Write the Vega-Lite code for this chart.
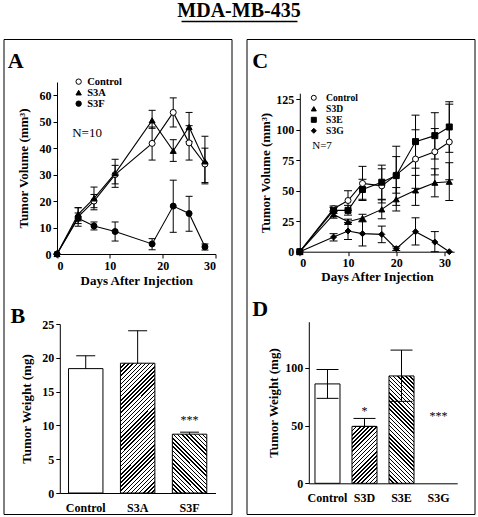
{
"$schema": "https://vega.github.io/schema/vega-lite/v6.json",
"background": "white",
"padding": {"left": 2.5, "top": 0, "right": 3, "bottom": 3},
"title": {"text": "MDA-MB-435", "font": "Liberation Serif", "fontSize": 20, "fontWeight": "bold", "color": "black", "anchor": "middle", "offset": -0.5},
"bounds": "flush",
"spacing": 15,
"resolve": {"scale": {"fill": "independent", "shape": "independent", "stroke": "independent"}, "legend": {"fill": "independent", "shape": "independent", "stroke": "independent"}},
"config": {
  "view": {"stroke": "black", "strokeWidth": 1},
  "axis": {"labelFont": "Liberation Serif", "labelFontWeight": "bold", "labelFontSize": 12, "labelColor": "black", "titleFont": "Liberation Serif", "titleFontWeight": "bold", "titleFontSize": 13, "titleColor": "black", "domainColor": "black", "tickColor": "black", "grid": false, "tickSize": 4, "labelPadding": 2},
  "text": {"font": "Liberation Serif", "color": "black"}
},
"hconcat": [
{
  "width": 228, "height": 475,
  "resolve": {"scale": {"x": "independent", "y": "independent"}},
  "layer": [
  {
    "data": {"values": [
      {"g":"Control","day":0,"v":0},
      {"g":"Control","day":4,"v":14,"lo":10.5,"hi":17.5},
      {"g":"Control","day":7,"v":20,"lo":17.5,"hi":22.5},
      {"g":"Control","day":11,"v":30,"lo":26.5,"hi":33.5},
      {"g":"Control","day":18,"v":41.8,"lo":35.5,"hi":48},
      {"g":"Control","day":22,"v":53.5,"lo":48,"hi":59},
      {"g":"Control","day":25,"v":42,"lo":35.5,"hi":48.5},
      {"g":"Control","day":28,"v":34,"lo":27,"hi":40},
      {"g":"S3A","day":0,"v":0},
      {"g":"S3A","day":4,"v":15,"lo":12.5,"hi":17.5},
      {"g":"S3A","day":7,"v":21,"lo":16.7,"hi":25.3},
      {"g":"S3A","day":11,"v":30.5,"lo":25.2,"hi":35.8},
      {"g":"S3A","day":18,"v":50.5,"lo":47.5,"hi":54.3},
      {"g":"S3A","day":22,"v":39,"lo":35,"hi":43.2},
      {"g":"S3A","day":25,"v":48,"lo":42.5,"hi":53.5},
      {"g":"S3A","day":28,"v":35,"lo":26.5,"hi":44.5},
      {"g":"S3F","day":0,"v":0},
      {"g":"S3F","day":4,"v":13.5,"lo":11.5,"hi":15.5},
      {"g":"S3F","day":7,"v":10.6,"lo":9.1,"hi":12.1},
      {"g":"S3F","day":11,"v":8.5,"lo":4.9,"hi":12.1},
      {"g":"S3F","day":18,"v":3.8,"lo":1.6,"hi":5.8},
      {"g":"S3F","day":22,"v":18.1,"lo":8.2,"hi":27.9},
      {"g":"S3F","day":25,"v":15.3,"lo":8.6,"hi":21.8},
      {"g":"S3F","day":28,"v":2.7,"lo":1.5,"hi":3.8}
    ]},
    "encoding": {
      "x": {"field": "day", "type": "quantitative", "scale": {"domain": [0, 30], "range": [53.5, 212], "nice": false}, "axis": {"orient": "bottom", "offset": -260, "values": [0, 10, 20, 30], "title": "Days After Injection", "titlePadding": 3}},
      "y": {"field": "v", "type": "quantitative", "scale": {"domain": [0, 65], "range": [215, 43], "nice": false}, "axis": {"orient": "left", "offset": -53.5, "values": [0, 10, 20, 30, 40, 50, 60], "title": "Tumor Volume (mm³)", "titlePadding": 8.5}}
    },
    "layer": [
      {"mark": {"type": "rule", "color": "black", "strokeWidth": 1}, "encoding": {"y": {"field": "lo", "type": "quantitative"}, "y2": {"field": "hi"}}},
      {"mark": {"type": "tick", "orient": "horizontal", "size": 7, "thickness": 1, "color": "black", "opacity": 1}, "encoding": {"y": {"field": "lo", "type": "quantitative"}}},
      {"mark": {"type": "tick", "orient": "horizontal", "size": 7, "thickness": 1, "color": "black", "opacity": 1}, "encoding": {"y": {"field": "hi", "type": "quantitative"}}},
      {"mark": {"type": "line", "color": "black", "strokeWidth": 1.1}, "encoding": {"detail": {"field": "g"}}},
      {"mark": {"type": "point", "filled": true, "size": 36, "strokeWidth": 1, "opacity": 1},
       "encoding": {
         "shape": {"field": "g", "type": "nominal", "scale": {"domain": ["Control", "S3A", "S3F"], "range": ["circle", "triangle-up", "circle"]},
           "legend": {"orient": "none", "legendX": 69.9, "legendY": 37.4, "title": null, "padding": 0, "labelFont": "Liberation Serif", "labelFontWeight": "bold", "labelFontSize": 10.5, "labelColor": "black", "labelOffset": 3.3, "rowPadding": -1, "symbolSize": 29, "symbolStrokeWidth": 1, "symbolStrokeColor": "black"}},
         "stroke": {"field": "g", "type": "nominal", "scale": {"domain": ["Control", "S3A", "S3F"], "range": ["black", "black", "black"]},
           "legend": {"orient": "none", "legendX": 69.9, "legendY": 37.4, "title": null, "padding": 0, "labelFont": "Liberation Serif", "labelFontWeight": "bold", "labelFontSize": 10.5, "labelColor": "black", "labelOffset": 3.3, "rowPadding": -1, "symbolSize": 29, "symbolStrokeWidth": 1, "symbolStrokeColor": "black"}},
         "fill": {"field": "g", "type": "nominal", "scale": {"domain": ["Control", "S3A", "S3F"], "range": ["white", "black", "black"]},
           "legend": {"orient": "none", "legendX": 69.9, "legendY": 37.4, "title": null, "padding": 0, "labelFont": "Liberation Serif", "labelFontWeight": "bold", "labelFontSize": 10.5, "labelColor": "black", "labelOffset": 3.3, "rowPadding": -1, "symbolSize": 29, "symbolStrokeWidth": 1, "symbolStrokeColor": "black"}}
       }},
      {"transform": [{"filter": "datum.g === 'Control' && datum.day === 0"}], "mark": {"type": "text", "fontSize": 13, "align": "left", "baseline": "middle"}, "encoding": {"x": {"datum": 2.88}, "y": {"datum": 45.85}, "text": {"value": "N=10"}}},
      {"transform": [{"filter": "datum.g === 'Control' && datum.day === 0"}], "mark": {"type": "text", "fontSize": 22, "fontWeight": "bold", "align": "left", "baseline": "alphabetic"}, "encoding": {"x": {"datum": -9.31}, "y": {"datum": 70.4}, "text": {"value": "A"}}},
      {"transform": [{"filter": "datum.g === 'Control' && datum.day === 0"}], "mark": {"type": "text", "fontSize": 22, "fontWeight": "bold", "align": "left", "baseline": "alphabetic"}, "encoding": {"x": {"datum": -8.8}, "y": {"datum": -25.96}, "text": {"value": "B"}}},
      {"transform": [{"filter": "datum.g === 'Control' && datum.day === 0"}], "mark": {"type": "rule", "color": "black", "strokeWidth": 1.5}, "encoding": {"x": {"datum": 23.57}, "x2": {"datum": 45.52}, "y": {"datum": 87.87}}}
    ]
  },
  {
    "data": {"values": [
      {"g":"Control","v":18.4,"lo":18.4,"hi":20.3},
      {"g":"S3A","v":19.2,"lo":19.2,"hi":24.0},
      {"g":"S3F","v":8.7,"lo":8.7,"hi":9.0,"sig":"***"}
    ]},
    "encoding": {
      "x": {"field": "g", "type": "nominal", "scale": {"domain": ["Control", "S3A", "S3F"], "range": [56.3, 212], "paddingInner": 0.337, "paddingOuter": 0.168}, "axis": {"orient": "bottom", "offset": -21, "title": null, "ticks": false, "tickSize": 0, "labelPadding": 9.5, "labelAngle": 0}},
      "y": {"field": "v", "type": "quantitative", "scale": {"domain": [0, 25], "range": [454, 285], "nice": false}, "axis": {"orient": "left", "offset": -56.3, "values": [0, 5, 10, 15, 20, 25], "title": "Tumor Weight (mg)", "titlePadding": 8.5}}
    },
    "layer": [
      {"transform": [{"filter": "datum.g === 'Control'"}], "mark": {"type": "bar", "fill": "white", "stroke": "black", "strokeWidth": 1}},
      {"transform": [{"filter": "datum.g === 'S3A'"}], "mark": {"type": "bar", "stroke": "black", "strokeWidth": 1, "fill": {"gradient": "linear", "x1": 0, "y1": 0, "x2": 0.3142, "y2": 1.1823, "stops": [
        {"offset":0,"color":"#fff"},
        {"offset":0.025,"color":"#fff"},{"offset":0.025,"color":"#000"},{"offset":0.034,"color":"#000"},{"offset":0.034,"color":"#fff"},
        {"offset":0.05,"color":"#fff"},{"offset":0.05,"color":"#000"},{"offset":0.059,"color":"#000"},{"offset":0.059,"color":"#fff"},
        {"offset":0.075,"color":"#fff"},{"offset":0.075,"color":"#000"},{"offset":0.084,"color":"#000"},{"offset":0.084,"color":"#fff"},
        {"offset":0.1,"color":"#fff"},{"offset":0.1,"color":"#000"},{"offset":0.109,"color":"#000"},{"offset":0.109,"color":"#fff"},
        {"offset":0.125,"color":"#fff"},{"offset":0.125,"color":"#000"},{"offset":0.134,"color":"#000"},{"offset":0.134,"color":"#fff"},
        {"offset":0.15,"color":"#fff"},{"offset":0.15,"color":"#000"},{"offset":0.159,"color":"#000"},{"offset":0.159,"color":"#fff"},
        {"offset":0.175,"color":"#fff"},{"offset":0.175,"color":"#000"},{"offset":0.184,"color":"#000"},{"offset":0.184,"color":"#fff"},
        {"offset":0.2,"color":"#fff"},{"offset":0.2,"color":"#000"},{"offset":0.209,"color":"#000"},{"offset":0.209,"color":"#fff"},
        {"offset":0.225,"color":"#fff"},{"offset":0.225,"color":"#000"},{"offset":0.234,"color":"#000"},{"offset":0.234,"color":"#fff"},
        {"offset":0.25,"color":"#fff"},{"offset":0.25,"color":"#000"},{"offset":0.259,"color":"#000"},{"offset":0.259,"color":"#fff"},
        {"offset":0.275,"color":"#fff"},{"offset":0.275,"color":"#000"},{"offset":0.284,"color":"#000"},{"offset":0.284,"color":"#fff"},
        {"offset":0.3,"color":"#fff"},{"offset":0.3,"color":"#000"},{"offset":0.309,"color":"#000"},{"offset":0.309,"color":"#fff"},
        {"offset":0.325,"color":"#fff"},{"offset":0.325,"color":"#000"},{"offset":0.334,"color":"#000"},{"offset":0.334,"color":"#fff"},
        {"offset":0.35,"color":"#fff"},{"offset":0.35,"color":"#000"},{"offset":0.359,"color":"#000"},{"offset":0.359,"color":"#fff"},
        {"offset":0.375,"color":"#fff"},{"offset":0.375,"color":"#000"},{"offset":0.384,"color":"#000"},{"offset":0.384,"color":"#fff"},
        {"offset":0.4,"color":"#fff"},{"offset":0.4,"color":"#000"},{"offset":0.409,"color":"#000"},{"offset":0.409,"color":"#fff"},
        {"offset":0.425,"color":"#fff"},{"offset":0.425,"color":"#000"},{"offset":0.434,"color":"#000"},{"offset":0.434,"color":"#fff"},
        {"offset":0.45,"color":"#fff"},{"offset":0.45,"color":"#000"},{"offset":0.459,"color":"#000"},{"offset":0.459,"color":"#fff"},
        {"offset":0.475,"color":"#fff"},{"offset":0.475,"color":"#000"},{"offset":0.484,"color":"#000"},{"offset":0.484,"color":"#fff"},
        {"offset":0.5,"color":"#fff"},{"offset":0.5,"color":"#000"},{"offset":0.509,"color":"#000"},{"offset":0.509,"color":"#fff"},
        {"offset":0.525,"color":"#fff"},{"offset":0.525,"color":"#000"},{"offset":0.534,"color":"#000"},{"offset":0.534,"color":"#fff"},
        {"offset":0.55,"color":"#fff"},{"offset":0.55,"color":"#000"},{"offset":0.559,"color":"#000"},{"offset":0.559,"color":"#fff"},
        {"offset":0.575,"color":"#fff"},{"offset":0.575,"color":"#000"},{"offset":0.584,"color":"#000"},{"offset":0.584,"color":"#fff"},
        {"offset":0.6,"color":"#fff"},{"offset":0.6,"color":"#000"},{"offset":0.609,"color":"#000"},{"offset":0.609,"color":"#fff"},
        {"offset":0.625,"color":"#fff"},{"offset":0.625,"color":"#000"},{"offset":0.634,"color":"#000"},{"offset":0.634,"color":"#fff"},
        {"offset":0.65,"color":"#fff"},{"offset":0.65,"color":"#000"},{"offset":0.659,"color":"#000"},{"offset":0.659,"color":"#fff"},
        {"offset":0.675,"color":"#fff"},{"offset":0.675,"color":"#000"},{"offset":0.684,"color":"#000"},{"offset":0.684,"color":"#fff"},
        {"offset":0.7,"color":"#fff"},{"offset":0.7,"color":"#000"},{"offset":0.709,"color":"#000"},{"offset":0.709,"color":"#fff"},
        {"offset":0.725,"color":"#fff"},{"offset":0.725,"color":"#000"},{"offset":0.734,"color":"#000"},{"offset":0.734,"color":"#fff"},
        {"offset":0.75,"color":"#fff"},{"offset":0.75,"color":"#000"},{"offset":0.759,"color":"#000"},{"offset":0.759,"color":"#fff"},
        {"offset":0.775,"color":"#fff"},{"offset":0.775,"color":"#000"},{"offset":0.784,"color":"#000"},{"offset":0.784,"color":"#fff"},
        {"offset":0.8,"color":"#fff"},{"offset":0.8,"color":"#000"},{"offset":0.809,"color":"#000"},{"offset":0.809,"color":"#fff"},
        {"offset":0.825,"color":"#fff"},{"offset":0.825,"color":"#000"},{"offset":0.834,"color":"#000"},{"offset":0.834,"color":"#fff"},
        {"offset":0.85,"color":"#fff"},{"offset":0.85,"color":"#000"},{"offset":0.859,"color":"#000"},{"offset":0.859,"color":"#fff"},
        {"offset":0.875,"color":"#fff"},{"offset":0.875,"color":"#000"},{"offset":0.884,"color":"#000"},{"offset":0.884,"color":"#fff"},
        {"offset":0.9,"color":"#fff"},{"offset":0.9,"color":"#000"},{"offset":0.909,"color":"#000"},{"offset":0.909,"color":"#fff"},
        {"offset":0.925,"color":"#fff"},{"offset":0.925,"color":"#000"},{"offset":0.934,"color":"#000"},{"offset":0.934,"color":"#fff"},
        {"offset":0.95,"color":"#fff"},{"offset":0.95,"color":"#000"},{"offset":0.959,"color":"#000"},{"offset":0.959,"color":"#fff"},
        {"offset":0.975,"color":"#fff"},{"offset":0.975,"color":"#000"},{"offset":0.984,"color":"#000"},{"offset":0.984,"color":"#fff"},
        {"offset":1,"color":"#fff"}]}}},
      {"transform": [{"filter": "datum.g === 'S3F'"}], "mark": {"type": "bar", "stroke": "black", "strokeWidth": 1, "fill": {"gradient": "linear", "x1": 0, "y1": 1, "x2": 0.6926, "y2": -0.1804, "stops": [
        {"offset":0,"color":"#fff"},
        {"offset":0.045,"color":"#fff"},{"offset":0.045,"color":"#000"},{"offset":0.061,"color":"#000"},{"offset":0.061,"color":"#fff"},
        {"offset":0.09,"color":"#fff"},{"offset":0.09,"color":"#000"},{"offset":0.106,"color":"#000"},{"offset":0.106,"color":"#fff"},
        {"offset":0.135,"color":"#fff"},{"offset":0.135,"color":"#000"},{"offset":0.151,"color":"#000"},{"offset":0.151,"color":"#fff"},
        {"offset":0.18,"color":"#fff"},{"offset":0.18,"color":"#000"},{"offset":0.196,"color":"#000"},{"offset":0.196,"color":"#fff"},
        {"offset":0.225,"color":"#fff"},{"offset":0.225,"color":"#000"},{"offset":0.241,"color":"#000"},{"offset":0.241,"color":"#fff"},
        {"offset":0.27,"color":"#fff"},{"offset":0.27,"color":"#000"},{"offset":0.286,"color":"#000"},{"offset":0.286,"color":"#fff"},
        {"offset":0.315,"color":"#fff"},{"offset":0.315,"color":"#000"},{"offset":0.331,"color":"#000"},{"offset":0.331,"color":"#fff"},
        {"offset":0.36,"color":"#fff"},{"offset":0.36,"color":"#000"},{"offset":0.376,"color":"#000"},{"offset":0.376,"color":"#fff"},
        {"offset":0.405,"color":"#fff"},{"offset":0.405,"color":"#000"},{"offset":0.421,"color":"#000"},{"offset":0.421,"color":"#fff"},
        {"offset":0.45,"color":"#fff"},{"offset":0.45,"color":"#000"},{"offset":0.466,"color":"#000"},{"offset":0.466,"color":"#fff"},
        {"offset":0.495,"color":"#fff"},{"offset":0.495,"color":"#000"},{"offset":0.511,"color":"#000"},{"offset":0.511,"color":"#fff"},
        {"offset":0.54,"color":"#fff"},{"offset":0.54,"color":"#000"},{"offset":0.556,"color":"#000"},{"offset":0.556,"color":"#fff"},
        {"offset":0.585,"color":"#fff"},{"offset":0.585,"color":"#000"},{"offset":0.601,"color":"#000"},{"offset":0.601,"color":"#fff"},
        {"offset":0.63,"color":"#fff"},{"offset":0.63,"color":"#000"},{"offset":0.646,"color":"#000"},{"offset":0.646,"color":"#fff"},
        {"offset":0.675,"color":"#fff"},{"offset":0.675,"color":"#000"},{"offset":0.691,"color":"#000"},{"offset":0.691,"color":"#fff"},
        {"offset":0.72,"color":"#fff"},{"offset":0.72,"color":"#000"},{"offset":0.736,"color":"#000"},{"offset":0.736,"color":"#fff"},
        {"offset":0.765,"color":"#fff"},{"offset":0.765,"color":"#000"},{"offset":0.781,"color":"#000"},{"offset":0.781,"color":"#fff"},
        {"offset":0.81,"color":"#fff"},{"offset":0.81,"color":"#000"},{"offset":0.826,"color":"#000"},{"offset":0.826,"color":"#fff"},
        {"offset":0.855,"color":"#fff"},{"offset":0.855,"color":"#000"},{"offset":0.871,"color":"#000"},{"offset":0.871,"color":"#fff"},
        {"offset":0.9,"color":"#fff"},{"offset":0.9,"color":"#000"},{"offset":0.916,"color":"#000"},{"offset":0.916,"color":"#fff"},
        {"offset":0.945,"color":"#fff"},{"offset":0.945,"color":"#000"},{"offset":0.961,"color":"#000"},{"offset":0.961,"color":"#fff"},
        {"offset":1,"color":"#fff"}]}}},
      {"mark": {"type": "rule", "color": "black", "strokeWidth": 1}, "encoding": {"y": {"field": "lo", "type": "quantitative"}, "y2": {"field": "hi"}}},
      {"mark": {"type": "tick", "orient": "horizontal", "size": 19, "thickness": 1, "color": "black", "opacity": 1}, "encoding": {"y": {"field": "hi", "type": "quantitative"}}},
      {"transform": [{"filter": "datum.g === 'S3F'"}], "mark": {"type": "text", "fontSize": 12, "dy": -8.4, "baseline": "alphabetic"}, "encoding": {"y": {"field": "hi", "type": "quantitative"}, "text": {"field": "sig"}}}
    ]
  }
  ]
},
{
  "width": 228, "height": 475,
  "resolve": {"scale": {"x": "independent", "y": "independent"}},
  "layer": [
  {
    "data": {"values": [
      {"g":"Control","day":0,"v":0},
      {"g":"Control","day":7,"v":35.3,"lo":33,"hi":37.5},
      {"g":"Control","day":10,"v":42,"lo":34,"hi":50},
      {"g":"Control","day":13,"v":56,"lo":42,"hi":70},
      {"g":"Control","day":17,"v":54,"lo":40,"hi":68},
      {"g":"Control","day":20,"v":63,"lo":48,"hi":78},
      {"g":"Control","day":24,"v":76,"lo":52,"hi":100},
      {"g":"Control","day":28,"v":82,"lo":63,"hi":101},
      {"g":"Control","day":31,"v":90,"lo":59,"hi":121},
      {"g":"S3D","day":0,"v":0},
      {"g":"S3D","day":7,"v":30.6,"lo":27.5,"hi":33.5},
      {"g":"S3D","day":10,"v":24.6,"lo":22.5,"hi":26.7},
      {"g":"S3D","day":13,"v":27.6,"lo":24.5,"hi":30.7},
      {"g":"S3D","day":17,"v":34.7,"lo":27,"hi":42.5},
      {"g":"S3D","day":20,"v":43,"lo":33.4,"hi":52.6},
      {"g":"S3D","day":24,"v":50.3,"lo":38,"hi":62.6},
      {"g":"S3D","day":28,"v":56.6,"lo":45,"hi":68},
      {"g":"S3D","day":31,"v":57.4,"lo":42,"hi":73},
      {"g":"S3E","day":0,"v":0},
      {"g":"S3E","day":7,"v":33.9,"lo":31.5,"hi":36.3},
      {"g":"S3E","day":10,"v":33.9,"lo":30,"hi":38},
      {"g":"S3E","day":13,"v":51,"lo":43,"hi":59.4},
      {"g":"S3E","day":17,"v":57,"lo":43,"hi":71},
      {"g":"S3E","day":20,"v":62.4,"lo":38,"hi":86.5},
      {"g":"S3E","day":24,"v":90.3,"lo":68.5,"hi":112},
      {"g":"S3E","day":28,"v":95.2,"lo":76,"hi":114},
      {"g":"S3E","day":31,"v":102.3,"lo":81.5,"hi":123},
      {"g":"S3G","day":0,"v":0},
      {"g":"S3G","day":7,"v":12,"lo":8.8,"hi":14.8},
      {"g":"S3G","day":10,"v":17,"lo":10,"hi":24},
      {"g":"S3G","day":13,"v":14.8,"lo":4.7,"hi":25},
      {"g":"S3G","day":17,"v":14.2,"lo":7.4,"hi":21},
      {"g":"S3G","day":20,"v":2.5,"lo":1,"hi":4},
      {"g":"S3G","day":24,"v":16.4,"lo":5.5,"hi":27.8},
      {"g":"S3G","day":28,"v":7.9,"lo":0,"hi":16.5},
      {"g":"S3G","day":31,"v":0}
    ]},
    "encoding": {
      "x": {"field": "day", "type": "quantitative", "scale": {"domain": [0, 32], "range": [53.3, 207.6], "nice": false}, "axis": {"orient": "bottom", "offset": -262.3, "values": [0, 10, 20, 30], "title": "Days After Injection", "titlePadding": 2}},
      "y": {"field": "v", "type": "quantitative", "scale": {"domain": [0, 130], "range": [212.7, 54.2], "nice": false}, "axis": {"orient": "left", "offset": -53.3, "values": [0, 25, 50, 75, 100, 125], "title": "Tumor Volume (mm³)", "titlePadding": 3.5}}
    },
    "layer": [
      {"mark": {"type": "rule", "color": "black", "strokeWidth": 1}, "encoding": {"y": {"field": "lo", "type": "quantitative"}, "y2": {"field": "hi"}}},
      {"mark": {"type": "tick", "orient": "horizontal", "size": 8, "thickness": 1, "color": "black", "opacity": 1}, "encoding": {"y": {"field": "lo", "type": "quantitative"}}},
      {"mark": {"type": "tick", "orient": "horizontal", "size": 8, "thickness": 1, "color": "black", "opacity": 1}, "encoding": {"y": {"field": "hi", "type": "quantitative"}}},
      {"mark": {"type": "line", "color": "black", "strokeWidth": 1.1}, "encoding": {"detail": {"field": "g"}}},
      {"mark": {"type": "point", "filled": true, "size": 36, "strokeWidth": 1, "opacity": 1},
       "encoding": {
         "shape": {"field": "g", "type": "nominal", "scale": {"domain": ["Control", "S3D", "S3E", "S3G"], "range": ["circle", "triangle-up", "square", "diamond"]},
           "legend": {"orient": "none", "legendX": 62.5, "legendY": 54, "title": null, "padding": 0, "labelFont": "Liberation Serif", "labelFontWeight": "bold", "labelFontSize": 9.6, "labelColor": "black", "labelOffset": 7.5, "rowPadding": 0, "symbolSize": 25, "symbolStrokeWidth": 1, "symbolStrokeColor": "black"}},
         "stroke": {"field": "g", "type": "nominal", "scale": {"domain": ["Control", "S3D", "S3E", "S3G"], "range": ["black", "black", "black", "black"]},
           "legend": {"orient": "none", "legendX": 62.5, "legendY": 54, "title": null, "padding": 0, "labelFont": "Liberation Serif", "labelFontWeight": "bold", "labelFontSize": 9.6, "labelColor": "black", "labelOffset": 7.5, "rowPadding": 0, "symbolSize": 25, "symbolStrokeWidth": 1, "symbolStrokeColor": "black"}},
         "fill": {"field": "g", "type": "nominal", "scale": {"domain": ["Control", "S3D", "S3E", "S3G"], "range": ["white", "black", "black", "black"]},
           "legend": {"orient": "none", "legendX": 62.5, "legendY": 54, "title": null, "padding": 0, "labelFont": "Liberation Serif", "labelFontWeight": "bold", "labelFontSize": 9.6, "labelColor": "black", "labelOffset": 7.5, "rowPadding": 0, "symbolSize": 25, "symbolStrokeWidth": 1, "symbolStrokeColor": "black"}}
       }},
      {"transform": [{"filter": "datum.g === 'Control' && datum.day === 0"}], "mark": {"type": "text", "fontSize": 11, "align": "left", "baseline": "middle"}, "encoding": {"x": {"datum": 2.57}, "y": {"datum": 87}, "text": {"value": "N=7"}}},
      {"transform": [{"filter": "datum.g === 'Control' && datum.day === 0"}], "mark": {"type": "text", "fontSize": 22, "fontWeight": "bold", "align": "left", "baseline": "alphabetic"}, "encoding": {"x": {"datum": -9.87}, "y": {"datum": 150.9}, "text": {"value": "C"}}},
      {"transform": [{"filter": "datum.g === 'Control' && datum.day === 0"}], "mark": {"type": "text", "fontSize": 22, "fontWeight": "bold", "align": "left", "baseline": "alphabetic"}, "encoding": {"x": {"datum": -9.87}, "y": {"datum": -52.7}, "text": {"value": "D"}}}
    ]
  },
  {
    "data": {"values": [
      {"g":"Control","v":86.1,"lo":73.6,"hi":98.6},
      {"g":"S3D","v":49.3,"lo":49.3,"hi":56.2,"sig":"*"},
      {"g":"S3E","v":93,"lo":71,"hi":115.4},
      {"g":"S3G","v":0,"sig":"***"}
    ]},
    "encoding": {
      "x": {"field": "g", "type": "nominal", "scale": {"domain": ["Control", "S3D", "S3E", "S3G"], "range": [62.3, 210.7], "paddingInner": 0.324, "paddingOuter": 0.167}, "axis": {"orient": "bottom", "offset": -30.7, "title": null, "ticks": false, "tickSize": 0, "labelPadding": 9, "labelAngle": 0}},
      "y": {"field": "v", "type": "quantitative", "scale": {"domain": [0, 140], "range": [444.3, 282.7], "nice": false}, "axis": {"orient": "left", "offset": -62.3, "values": [0, 50, 100], "title": "Tumor Weight (mg)", "titlePadding": 4.5}}
    },
    "layer": [
      {"transform": [{"filter": "datum.g === 'Control'"}], "mark": {"type": "bar", "fill": "white", "stroke": "black", "strokeWidth": 1}},
      {"transform": [{"filter": "datum.g === 'S3D'"}], "mark": {"type": "bar", "stroke": "black", "strokeWidth": 1, "fill": {"gradient": "linear", "x1": 0, "y1": 0, "x2": 0.5301, "y2": 1.2065, "stops": [
        {"offset":0,"color":"#fff"},
        {"offset":0.05,"color":"#fff"},{"offset":0.05,"color":"#000"},{"offset":0.068,"color":"#000"},{"offset":0.068,"color":"#fff"},
        {"offset":0.1,"color":"#fff"},{"offset":0.1,"color":"#000"},{"offset":0.118,"color":"#000"},{"offset":0.118,"color":"#fff"},
        {"offset":0.15,"color":"#fff"},{"offset":0.15,"color":"#000"},{"offset":0.168,"color":"#000"},{"offset":0.168,"color":"#fff"},
        {"offset":0.2,"color":"#fff"},{"offset":0.2,"color":"#000"},{"offset":0.218,"color":"#000"},{"offset":0.218,"color":"#fff"},
        {"offset":0.25,"color":"#fff"},{"offset":0.25,"color":"#000"},{"offset":0.268,"color":"#000"},{"offset":0.268,"color":"#fff"},
        {"offset":0.3,"color":"#fff"},{"offset":0.3,"color":"#000"},{"offset":0.318,"color":"#000"},{"offset":0.318,"color":"#fff"},
        {"offset":0.35,"color":"#fff"},{"offset":0.35,"color":"#000"},{"offset":0.368,"color":"#000"},{"offset":0.368,"color":"#fff"},
        {"offset":0.4,"color":"#fff"},{"offset":0.4,"color":"#000"},{"offset":0.418,"color":"#000"},{"offset":0.418,"color":"#fff"},
        {"offset":0.45,"color":"#fff"},{"offset":0.45,"color":"#000"},{"offset":0.468,"color":"#000"},{"offset":0.468,"color":"#fff"},
        {"offset":0.5,"color":"#fff"},{"offset":0.5,"color":"#000"},{"offset":0.518,"color":"#000"},{"offset":0.518,"color":"#fff"},
        {"offset":0.55,"color":"#fff"},{"offset":0.55,"color":"#000"},{"offset":0.568,"color":"#000"},{"offset":0.568,"color":"#fff"},
        {"offset":0.6,"color":"#fff"},{"offset":0.6,"color":"#000"},{"offset":0.618,"color":"#000"},{"offset":0.618,"color":"#fff"},
        {"offset":0.65,"color":"#fff"},{"offset":0.65,"color":"#000"},{"offset":0.668,"color":"#000"},{"offset":0.668,"color":"#fff"},
        {"offset":0.7,"color":"#fff"},{"offset":0.7,"color":"#000"},{"offset":0.718,"color":"#000"},{"offset":0.718,"color":"#fff"},
        {"offset":0.75,"color":"#fff"},{"offset":0.75,"color":"#000"},{"offset":0.768,"color":"#000"},{"offset":0.768,"color":"#fff"},
        {"offset":0.8,"color":"#fff"},{"offset":0.8,"color":"#000"},{"offset":0.818,"color":"#000"},{"offset":0.818,"color":"#fff"},
        {"offset":0.85,"color":"#fff"},{"offset":0.85,"color":"#000"},{"offset":0.868,"color":"#000"},{"offset":0.868,"color":"#fff"},
        {"offset":0.9,"color":"#fff"},{"offset":0.9,"color":"#000"},{"offset":0.918,"color":"#000"},{"offset":0.918,"color":"#fff"},
        {"offset":0.95,"color":"#fff"},{"offset":0.95,"color":"#000"},{"offset":0.968,"color":"#000"},{"offset":0.968,"color":"#fff"},
        {"offset":1,"color":"#fff"}]}}},
      {"transform": [{"filter": "datum.g === 'S3E'"}], "mark": {"type": "bar", "stroke": "black", "strokeWidth": 1, "fill": {"gradient": "linear", "x1": 0, "y1": 1, "x2": 0.2725, "y2": -0.1695, "stops": [
        {"offset":0,"color":"#fff"},
        {"offset":0.031,"color":"#fff"},{"offset":0.031,"color":"#000"},{"offset":0.042,"color":"#000"},{"offset":0.042,"color":"#fff"},
        {"offset":0.062,"color":"#fff"},{"offset":0.062,"color":"#000"},{"offset":0.073,"color":"#000"},{"offset":0.073,"color":"#fff"},
        {"offset":0.093,"color":"#fff"},{"offset":0.093,"color":"#000"},{"offset":0.104,"color":"#000"},{"offset":0.104,"color":"#fff"},
        {"offset":0.124,"color":"#fff"},{"offset":0.124,"color":"#000"},{"offset":0.135,"color":"#000"},{"offset":0.135,"color":"#fff"},
        {"offset":0.155,"color":"#fff"},{"offset":0.155,"color":"#000"},{"offset":0.166,"color":"#000"},{"offset":0.166,"color":"#fff"},
        {"offset":0.186,"color":"#fff"},{"offset":0.186,"color":"#000"},{"offset":0.197,"color":"#000"},{"offset":0.197,"color":"#fff"},
        {"offset":0.217,"color":"#fff"},{"offset":0.217,"color":"#000"},{"offset":0.228,"color":"#000"},{"offset":0.228,"color":"#fff"},
        {"offset":0.248,"color":"#fff"},{"offset":0.248,"color":"#000"},{"offset":0.259,"color":"#000"},{"offset":0.259,"color":"#fff"},
        {"offset":0.279,"color":"#fff"},{"offset":0.279,"color":"#000"},{"offset":0.29,"color":"#000"},{"offset":0.29,"color":"#fff"},
        {"offset":0.31,"color":"#fff"},{"offset":0.31,"color":"#000"},{"offset":0.321,"color":"#000"},{"offset":0.321,"color":"#fff"},
        {"offset":0.341,"color":"#fff"},{"offset":0.341,"color":"#000"},{"offset":0.352,"color":"#000"},{"offset":0.352,"color":"#fff"},
        {"offset":0.372,"color":"#fff"},{"offset":0.372,"color":"#000"},{"offset":0.383,"color":"#000"},{"offset":0.383,"color":"#fff"},
        {"offset":0.403,"color":"#fff"},{"offset":0.403,"color":"#000"},{"offset":0.414,"color":"#000"},{"offset":0.414,"color":"#fff"},
        {"offset":0.434,"color":"#fff"},{"offset":0.434,"color":"#000"},{"offset":0.445,"color":"#000"},{"offset":0.445,"color":"#fff"},
        {"offset":0.465,"color":"#fff"},{"offset":0.465,"color":"#000"},{"offset":0.476,"color":"#000"},{"offset":0.476,"color":"#fff"},
        {"offset":0.496,"color":"#fff"},{"offset":0.496,"color":"#000"},{"offset":0.507,"color":"#000"},{"offset":0.507,"color":"#fff"},
        {"offset":0.527,"color":"#fff"},{"offset":0.527,"color":"#000"},{"offset":0.538,"color":"#000"},{"offset":0.538,"color":"#fff"},
        {"offset":0.558,"color":"#fff"},{"offset":0.558,"color":"#000"},{"offset":0.569,"color":"#000"},{"offset":0.569,"color":"#fff"},
        {"offset":0.589,"color":"#fff"},{"offset":0.589,"color":"#000"},{"offset":0.6,"color":"#000"},{"offset":0.6,"color":"#fff"},
        {"offset":0.62,"color":"#fff"},{"offset":0.62,"color":"#000"},{"offset":0.631,"color":"#000"},{"offset":0.631,"color":"#fff"},
        {"offset":0.651,"color":"#fff"},{"offset":0.651,"color":"#000"},{"offset":0.662,"color":"#000"},{"offset":0.662,"color":"#fff"},
        {"offset":0.682,"color":"#fff"},{"offset":0.682,"color":"#000"},{"offset":0.693,"color":"#000"},{"offset":0.693,"color":"#fff"},
        {"offset":0.713,"color":"#fff"},{"offset":0.713,"color":"#000"},{"offset":0.724,"color":"#000"},{"offset":0.724,"color":"#fff"},
        {"offset":0.744,"color":"#fff"},{"offset":0.744,"color":"#000"},{"offset":0.755,"color":"#000"},{"offset":0.755,"color":"#fff"},
        {"offset":0.775,"color":"#fff"},{"offset":0.775,"color":"#000"},{"offset":0.786,"color":"#000"},{"offset":0.786,"color":"#fff"},
        {"offset":0.806,"color":"#fff"},{"offset":0.806,"color":"#000"},{"offset":0.817,"color":"#000"},{"offset":0.817,"color":"#fff"},
        {"offset":0.837,"color":"#fff"},{"offset":0.837,"color":"#000"},{"offset":0.848,"color":"#000"},{"offset":0.848,"color":"#fff"},
        {"offset":0.868,"color":"#fff"},{"offset":0.868,"color":"#000"},{"offset":0.879,"color":"#000"},{"offset":0.879,"color":"#fff"},
        {"offset":0.899,"color":"#fff"},{"offset":0.899,"color":"#000"},{"offset":0.91,"color":"#000"},{"offset":0.91,"color":"#fff"},
        {"offset":0.93,"color":"#fff"},{"offset":0.93,"color":"#000"},{"offset":0.941,"color":"#000"},{"offset":0.941,"color":"#fff"},
        {"offset":0.961,"color":"#fff"},{"offset":0.961,"color":"#000"},{"offset":0.972,"color":"#000"},{"offset":0.972,"color":"#fff"},
        {"offset":1,"color":"#fff"}]}}},
      {"mark": {"type": "rule", "color": "black", "strokeWidth": 1}, "encoding": {"y": {"field": "lo", "type": "quantitative"}, "y2": {"field": "hi"}}},
      {"mark": {"type": "tick", "orient": "horizontal", "size": 22, "thickness": 1, "color": "black", "opacity": 1}, "encoding": {"y": {"field": "lo", "type": "quantitative"}}},
      {"mark": {"type": "tick", "orient": "horizontal", "size": 22, "thickness": 1, "color": "black", "opacity": 1}, "encoding": {"y": {"field": "hi", "type": "quantitative"}}},
      {"transform": [{"filter": "datum.g === 'S3D'"}], "mark": {"type": "text", "fontSize": 12, "dy": -3.3, "baseline": "alphabetic"}, "encoding": {"y": {"field": "hi", "type": "quantitative"}, "text": {"field": "sig"}}},
      {"transform": [{"filter": "datum.g === 'S3G'"}], "mark": {"type": "text", "fontSize": 12, "baseline": "alphabetic"}, "encoding": {"y": {"datum": 54.5}, "text": {"field": "sig"}}}
    ]
  }
  ]
}
]
}
